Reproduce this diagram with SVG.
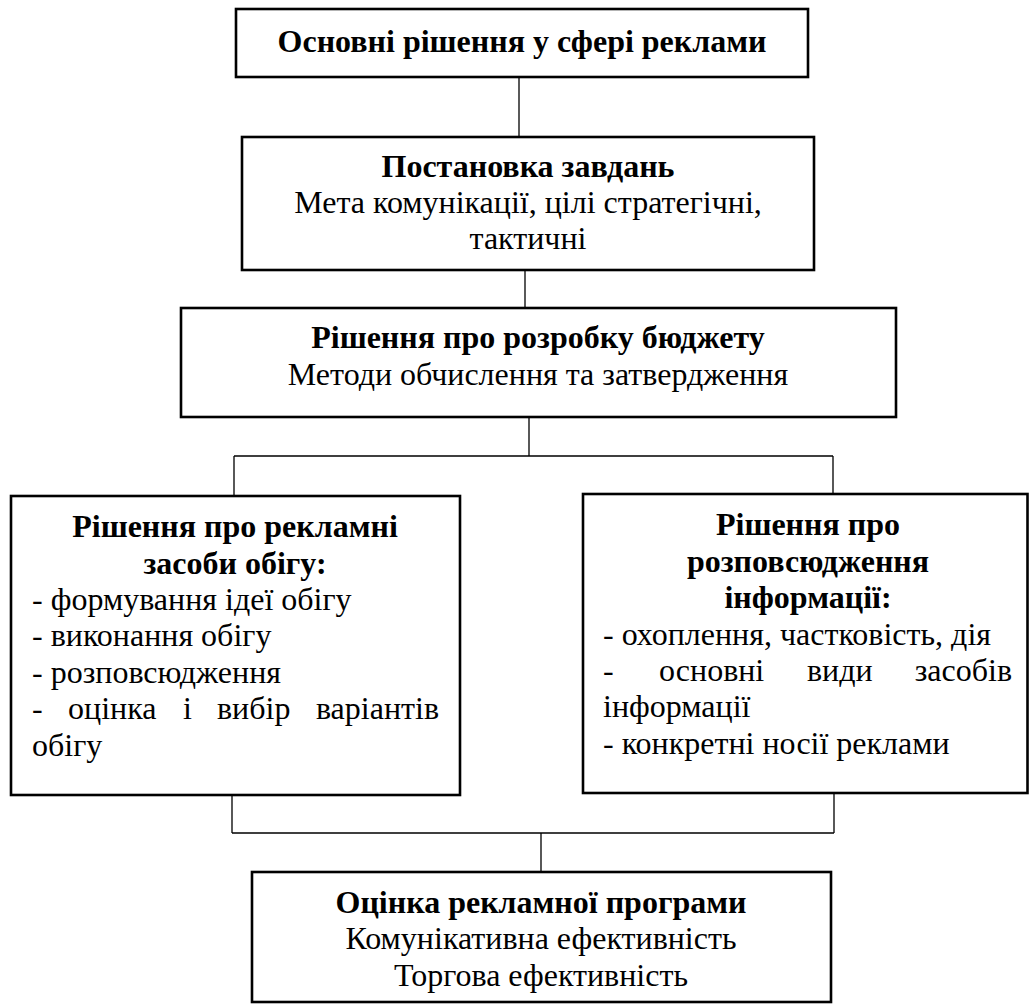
<svg xmlns="http://www.w3.org/2000/svg" width="1029" height="1005" viewBox="0 0 1029 1005">
<style>
.box{fill:#fff;stroke:#000;stroke-width:2.6}
.con{fill:none;stroke:#000;stroke-width:1.3}
text{font-family:"Liberation Serif","Times New Roman",serif;font-size:32px;fill:#000}
.b{font-weight:bold}
.c{text-anchor:middle}
</style>
<rect width="1029" height="1005" fill="#fff"/>
<g id="connectors">
<path class="con" d="M519 77V137"/>
<path class="con" d="M525 270V308"/>
<path class="con" d="M529 417V456M234 456H833M234 456V496M833 456V494"/>
<path class="con" d="M232 795V833M834 793V833M232 833H834M541 833V872"/>
</g>
<g id="n1">
<rect class="box" x="236" y="9" width="572" height="68"/>
<text class="b c" x="522" y="52">Основні рішення у сфері реклами</text>
</g>
<g id="n2">
<rect class="box" x="242" y="137" width="572" height="133"/>
<text class="b c" x="528" y="177">Постановка завдань</text>
<text class="c" x="528" y="213">Мета комунікації, цілі стратегічні,</text>
<text class="c" x="528" y="249">тактичні</text>
</g>
<g id="n3">
<rect class="box" x="181" y="308" width="715" height="109"/>
<text class="b c" x="538" y="348">Рішення про розробку бюджету</text>
<text class="c" x="538" y="385">Методи обчислення та затвердження</text>
</g>
<g id="n4">
<rect class="box" x="11" y="496" width="449" height="299"/>
<text class="b c" x="235" y="537">Рішення про рекламні</text>
<text class="b c" x="235" y="574">засоби обігу:</text>
<text x="32" y="610">- формування ідеї обігу</text>
<text x="32" y="646">- виконання обігу</text>
<text x="32" y="683">- розповсюдження</text>
<text y="719"><tspan x="32">-</tspan><tspan x="68">оцінка</tspan><tspan x="183">і</tspan><tspan x="217">вибір</tspan><tspan x="439" text-anchor="end">варіантів</tspan></text>
<text x="32" y="756">обігу</text>
</g>
<g id="n5">
<rect class="box" x="583" y="494" width="444.5" height="299"/>
<text class="b c" x="808" y="535">Рішення про</text>
<text class="b c" x="808" y="572">розповсюдження</text>
<text class="b c" x="808" y="608">інформації:</text>
<text x="603" y="645">- охоплення, частковість, дія</text>
<text y="681"><tspan x="603">-</tspan><tspan x="659">основні</tspan><tspan x="807">види</tspan><tspan x="1012" text-anchor="end">засобів</tspan></text>
<text x="603" y="717">інформації</text>
<text x="603" y="754">- конкретні носії реклами</text>
</g>
<g id="n6">
<rect class="box" x="252" y="872" width="579" height="130"/>
<text class="b c" x="541" y="913">Оцінка рекламної програми</text>
<text class="c" x="541" y="949">Комунікативна ефективність</text>
<text class="c" x="541" y="986">Торгова ефективність</text>
</g>
</svg>
